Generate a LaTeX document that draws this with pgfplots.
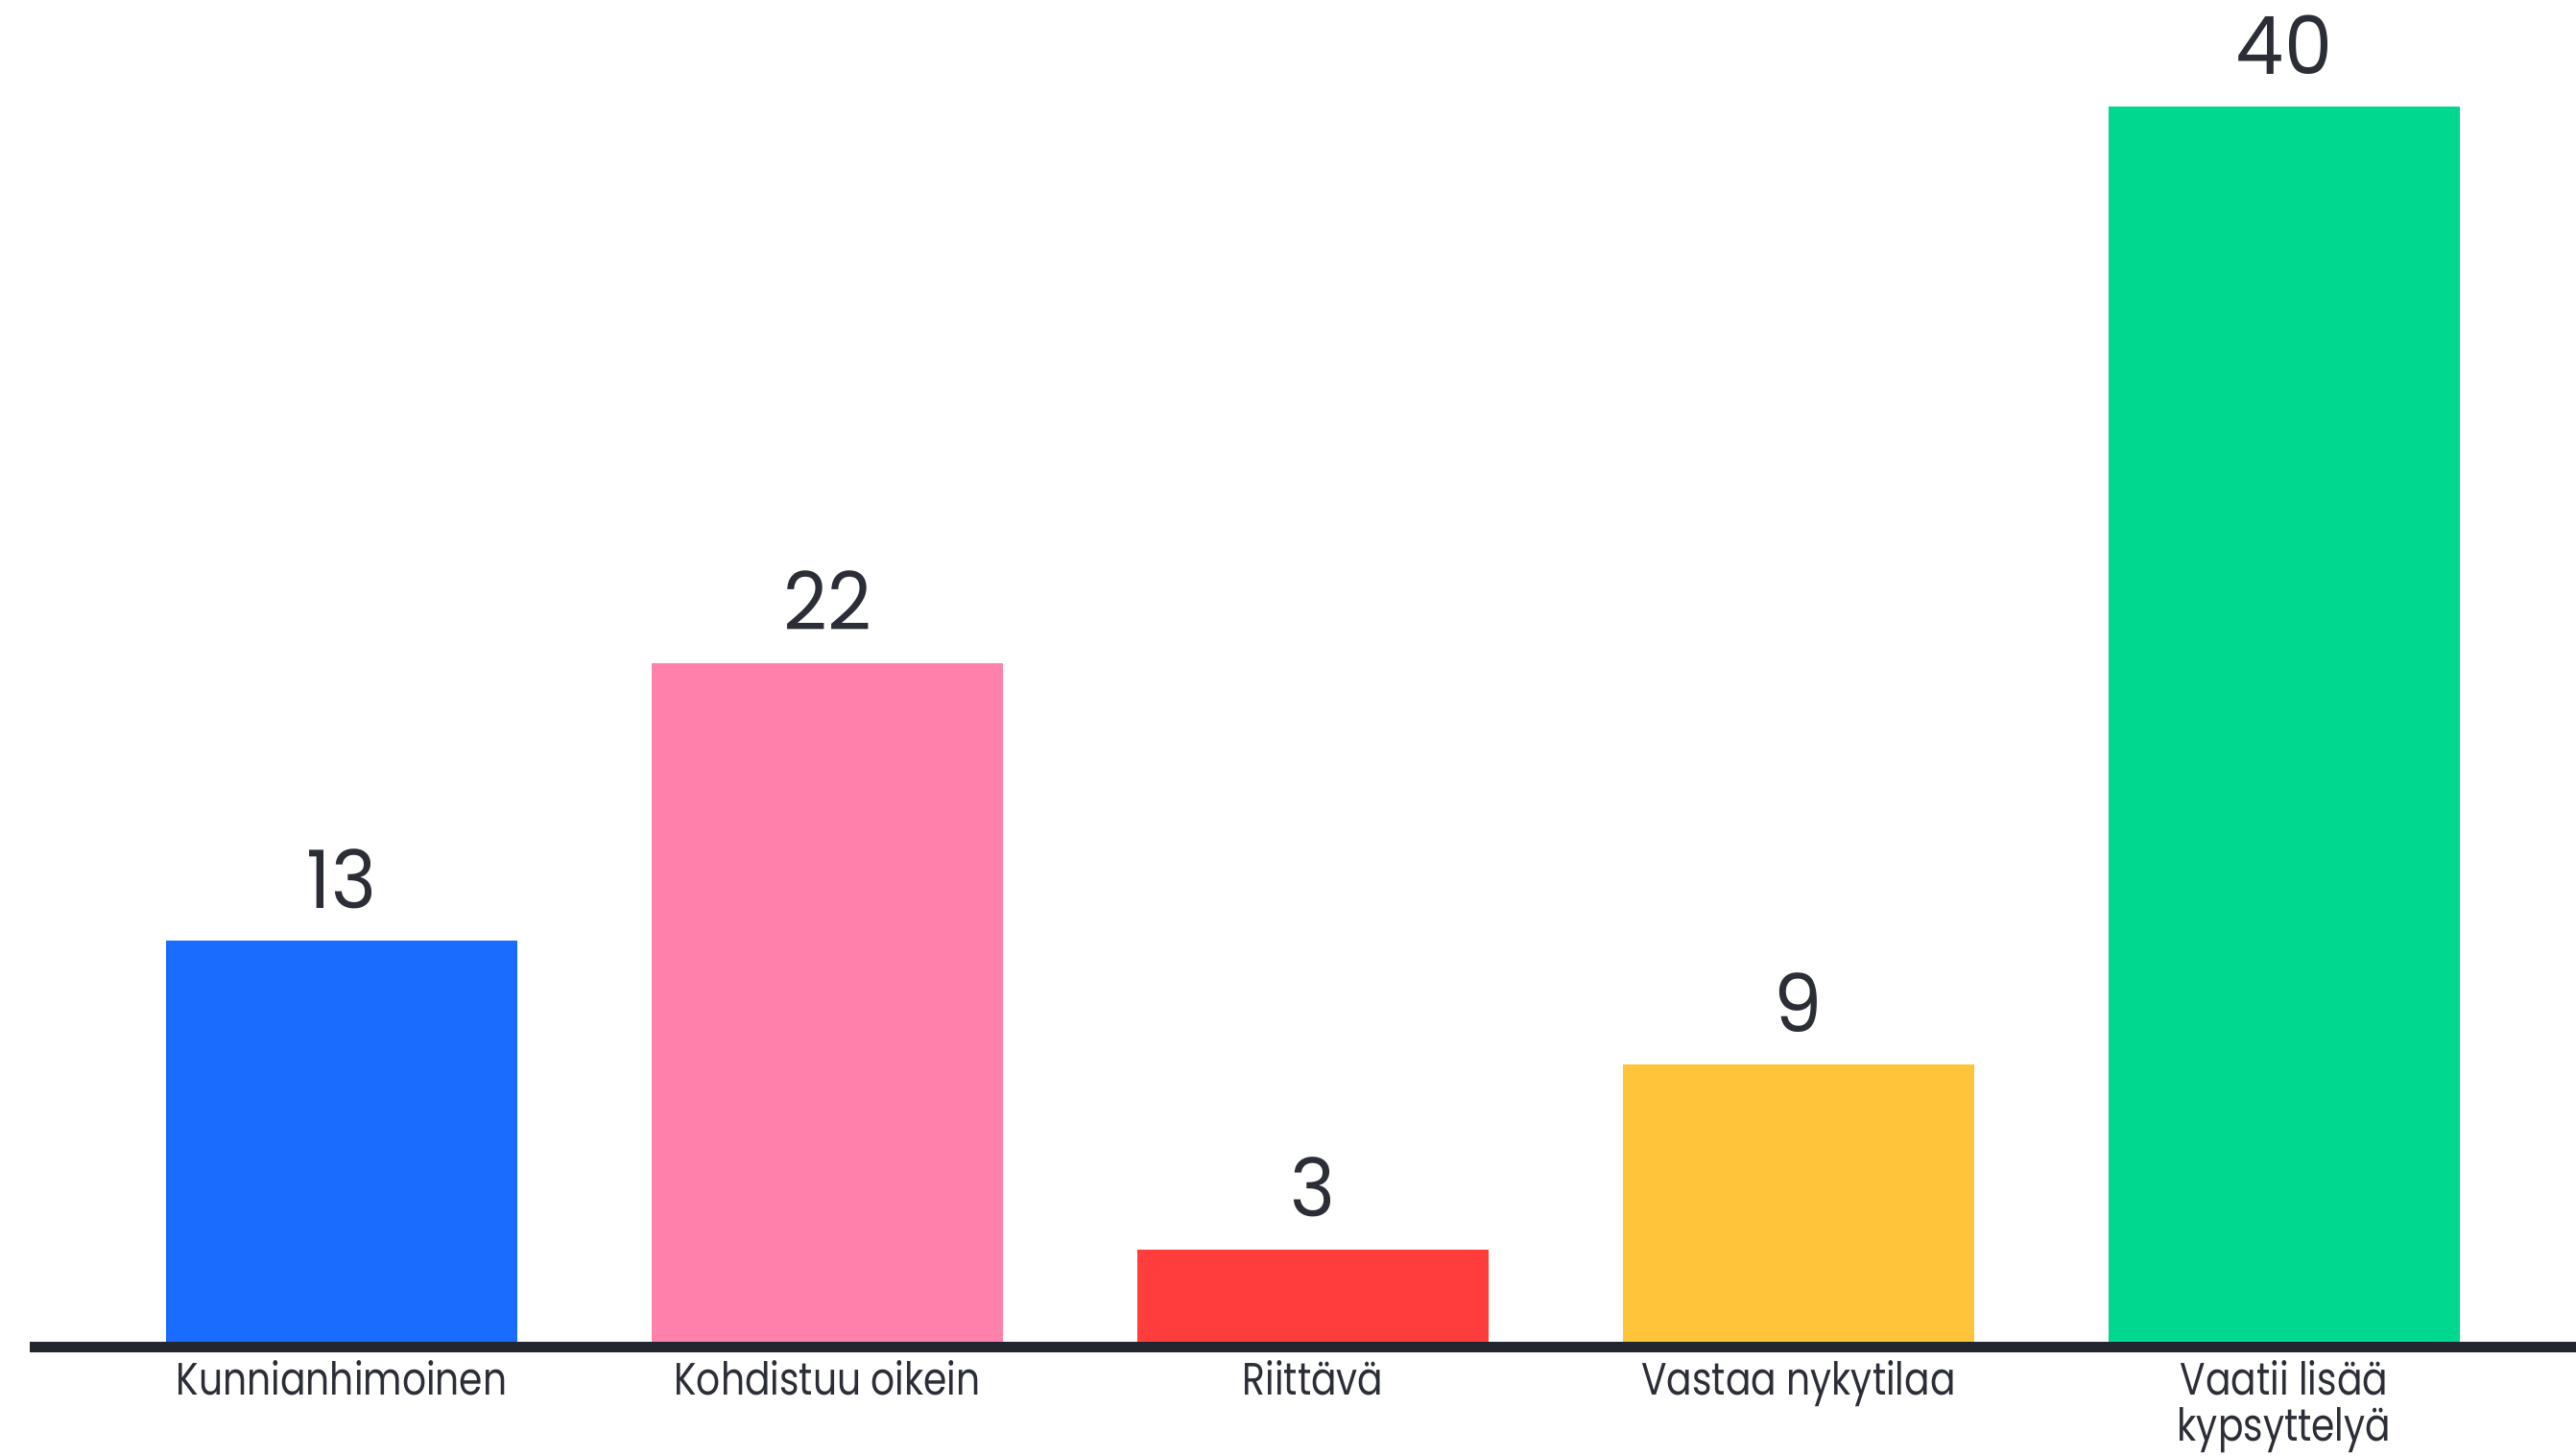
\documentclass[border=0pt]{standalone}
\usepackage{pgfplots}
\pgfplotsset{compat=1.18}
\usepackage{fontspec}
\setmainfont{Poppins}
\newfontfamily\labfont[FakeStretch=0.83]{Poppins}
\newfontfamily\numfont[FakeStretch=0.95]{Poppins}
\definecolor{cblue}{HTML}{1A6BFF}
\definecolor{cpink}{HTML}{FF80AB}
\definecolor{cred}{HTML}{FF3D3D}
\definecolor{cyellow}{HTML}{FFC53A}
\definecolor{cgreen}{HTML}{00D88F}
\definecolor{ctext}{HTML}{2B2E36}
\definecolor{cline}{HTML}{22262E}
\begin{document}
\begin{tikzpicture}
\useasboundingbox (0,0) rectangle (784pt,443pt);
\begin{axis}[
  at={(9pt,34.5pt)}, anchor=south west,
  scale only axis, width=775pt, height=408.5pt,
  xmin=-0.643, xmax=4.601, ymin=0, ymax=43.46,
  axis x line*=bottom, hide y axis, axis line style={draw=none},
  clip=false,
  /pgf/number format/assume math mode=true,
  ybar, bar width=0.724, bar shift=0pt,
  xtick={0,1,2,3,4},
  xticklabels={Kunnianhimoinen, Kohdistuu oikein, Riittävä, Vastaa nykytilaa, {Vaatii lisää\\kypsyttelyä}},
  xticklabel style={font=\labfont\fontsize{13.8}{14}\selectfont, text=ctext, align=center, anchor=north, inner sep=0pt, yshift=-5.5pt},
  major tick length=0pt,
  nodes near coords,
  every node near coord/.append style={font=\numfont\fontsize{24.5}{26}\selectfont, text=ctext, anchor=south, inner sep=0pt, yshift=9.6pt},
]
\addplot[fill=cblue, draw=none] coordinates {(0,13)};
\addplot[fill=cpink, draw=none] coordinates {(1,22)};
\addplot[fill=cred, draw=none] coordinates {(2,3)};
\addplot[fill=cyellow, draw=none] coordinates {(3,9)};
\addplot[fill=cgreen, draw=none] coordinates {(4,40)};
\draw[cline, line width=3.2pt] (axis cs:-0.643,-0.16) -- (axis cs:4.601,-0.16);
\end{axis}
\end{tikzpicture}
\end{document}
